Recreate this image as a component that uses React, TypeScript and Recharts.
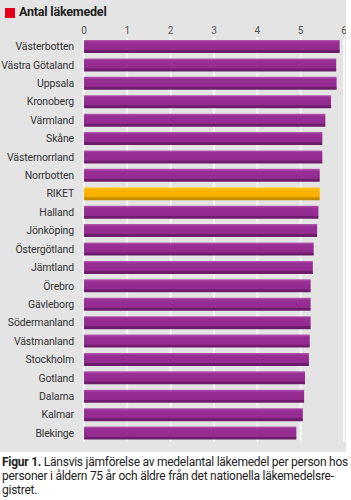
import { Bar, BarChart, CartesianGrid, Cell, XAxis, YAxis } from "recharts";

const regions = [
  "Västerbotten",
  "Västra Götaland",
  "Uppsala",
  "Kronoberg",
  "Värmland",
  "Skåne",
  "Västernorrland",
  "Norrbotten",
  "RIKET",
  "Halland",
  "Jönköping",
  "Östergötland",
  "Jämtland",
  "Örebro",
  "Gävleborg",
  "Södermanland",
  "Västmanland",
  "Stockholm",
  "Gotland",
  "Dalarna",
  "Kalmar",
  "Blekinge",
];

const medelantal = [
  5.9, 5.82, 5.83, 5.7, 5.57, 5.5, 5.5, 5.44, 5.44, 5.41, 5.38, 5.3, 5.28,
  5.23, 5.23, 5.23, 5.21, 5.19, 5.1, 5.08, 5.05, 4.9,
];

const xTicks = [0, 1, 2, 3, 4, 5, 6];

const data = regions.map((name, i) => ({ name, value: medelantal[i] }));

const font = "Roboto, 'Noto Sans', sans-serif";

// plain svg text so long names never wrap
const RegionTick = (props: any) => {
  const { x, y, payload } = props;
  return (
    <text
      x={x}
      y={y}
      dy={4}
      textAnchor="end"
      fontSize={10.5}
      fill="#333"
      fontFamily={font}
      letterSpacing={-0.15}
    >
      {payload.value}
    </text>
  );
};

const App = () => {
  return (
    <div
      style={{
        position: "absolute",
        left: 0,
        top: 0,
        width: 351,
        height: 500,
        background: "#fff",
        fontFamily: font,
      }}
    >
      <div
        style={{
          position: "absolute",
          left: 0,
          top: 0,
          width: 346,
          height: 452,
          background: "#e4e4e4",
        }}
      />
      <div
        style={{
          position: "absolute",
          left: 5,
          top: 8,
          width: 10,
          height: 10,
          background: "#e2001a",
        }}
      />
      <div
        style={{
          position: "absolute",
          left: 19,
          top: 4,
          fontSize: 12.5,
          fontWeight: "bold",
          color: "#222",
          whiteSpace: "nowrap",
          letterSpacing: -0.2,
        }}
      >
        Antal läkemedel
      </div>
      <div style={{ position: "absolute", left: 0, top: 0 }}>
        <BarChart
          width={346}
          height={443}
          data={data}
          layout="vertical"
          margin={{ top: 0, right: 2, bottom: 1, left: 0 }}
          barSize={13}
        >
          <defs>
            <linearGradient id="purpleBar" x1="0" y1="0" x2="0" y2="1">
              <stop offset="0%" stopColor="#b65ab1" />
              <stop offset="18%" stopColor="#982f95" />
              <stop offset="76%" stopColor="#932a90" />
              <stop offset="80%" stopColor="#6e1d6c" />
              <stop offset="100%" stopColor="#6e1d6c" />
            </linearGradient>
            <linearGradient id="orangeBar" x1="0" y1="0" x2="0" y2="1">
              <stop offset="0%" stopColor="#ffd050" />
              <stop offset="18%" stopColor="#fbb400" />
              <stop offset="76%" stopColor="#f8b000" />
              <stop offset="80%" stopColor="#c68b00" />
              <stop offset="100%" stopColor="#c68b00" />
            </linearGradient>
          </defs>
          <CartesianGrid horizontal={false} stroke="#ffffff" strokeWidth={1.5} />
          <XAxis
            type="number"
            orientation="top"
            domain={[0, 6]}
            ticks={xTicks}
            height={37}
            axisLine={false}
            tickLine={false}
            tickSize={0}
            tickMargin={3}
            tick={{ fontSize: 10, fill: "#555", fontFamily: font }}
            interval={0}
          />
          <YAxis
            type="category"
            dataKey="name"
            width={84}
            axisLine={false}
            tickLine={false}
            tickSize={0}
            tickMargin={10}
            interval={0}
            tick={<RegionTick />}
          />
          <Bar dataKey="value" isAnimationActive={false}>
            {data.map((d, i) => (
              <Cell
                key={`cell-${i}`}
                fill={d.name === "RIKET" ? "url(#orangeBar)" : "url(#purpleBar)"}
              />
            ))}
          </Bar>
        </BarChart>
      </div>
      <div
        style={{
          position: "absolute",
          left: 2,
          top: 455,
          fontSize: 12,
          lineHeight: "14px",
          color: "#222",
          whiteSpace: "nowrap",
          letterSpacing: -0.25,
        }}
      >
        <div>
          <b>Figur 1.</b> Länsvis jämförelse av medelantal läkemedel per person hos
        </div>
        <div>personer i åldern 75 år och äldre från det nationella läkemedelsre-</div>
        <div>gistret.</div>
      </div>
    </div>
  );
};

export default App;
